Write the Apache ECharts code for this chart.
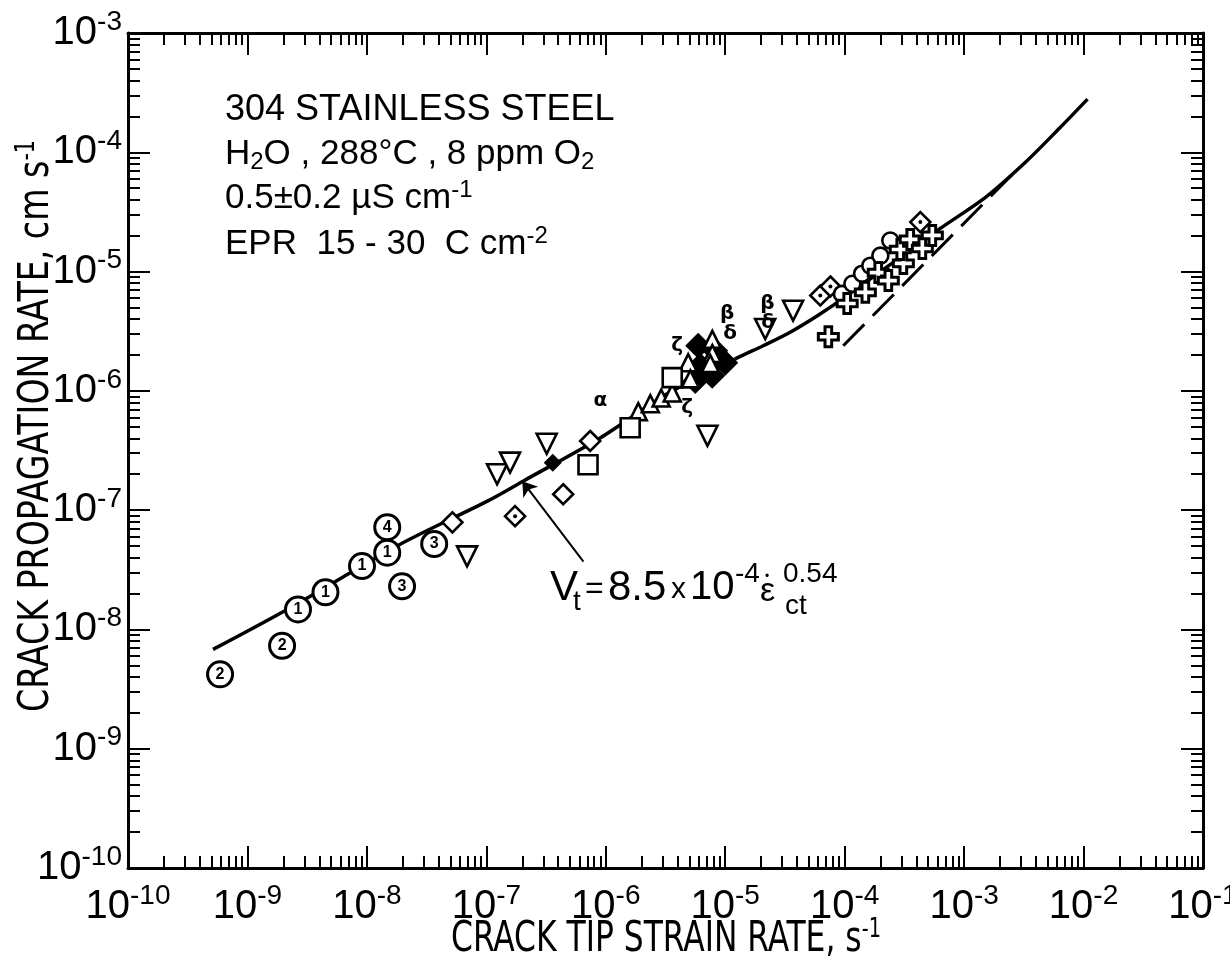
<!DOCTYPE html>
<html><head><meta charset="utf-8">
<script src="https://cdn.jsdelivr.net/npm/echarts@6/dist/echarts.min.js"></script>
<style>html,body{margin:0;padding:0;background:#fff}#c{width:1230px;height:963px}</style>
</head><body><div id="c"></div>
<script>
// ---- tick values ----
const xMajorTicks = [1e-10,1e-9,1e-8,1e-7,1e-6,1e-5,1e-4,1e-3,1e-2,1e-1];
const yMajorTicks = [1e-10,1e-9,1e-8,1e-7,1e-6,1e-5,1e-4,1e-3];
const minorMultipliers = [2,3,4,5,6,7,8,9];

// ---- data (strain rate s^-1, crack rate cm/s) ----
const fitCurve = [[5.15e-10,6.8e-9],[2.15e-9,1.47e-8],[1.9e-8,5.18e-8],[1.02e-7,1.19e-7],[2.03e-7,1.75e-7],
  [8.97e-7,4.03e-7],[3.27e-6,9.44e-7],[1.26e-5,1.89e-6],[2.1e-5,2.4e-6],[3.5e-5,3.1e-6],[6.0e-5,4.3e-6],[1.1e-4,6.5e-6],[6.32e-4,2.3e-5],
  [1.51e-3,4.19e-5],[3.26e-3,8.24e-5],[6.4e-3,1.62e-4],[1.08e-2,2.79e-4]];
const dashedLine = [[9.73e-5,2.39e-6],[2.84e-3,7.34e-5]];
const circledPts = [[5.9e-10,4.2e-9,'2'],[1.95e-9,7.3e-9,'2'],[2.65e-9,1.47e-8,'1'],[4.5e-9,2.05e-8,'1'],
  [9.1e-9,3.4e-8,'1'],[1.48e-8,4.4e-8,'1'],[1.48e-8,7.2e-8,'4'],[1.97e-8,2.3e-8,'3'],[3.66e-8,5.2e-8,'3']];
const openDiamonds = [[5.2e-8,7.9e-8],[4.4e-7,1.36e-7],[7.4e-7,3.8e-7]];
const dotDiamonds = [[1.74e-7,8.9e-8],[6.25e-5,6.3e-6],[7.6e-5,7.5e-6],[4.3e-4,2.6e-5]];
const filledDiamonds = [[3.6e-7,2.5e-7]];
const blobPts = [[5.94e-6,2.39e-6],[8.24e-6,2.17e-6],[1.0e-5,1.72e-6],[6.18e-6,1.62e-6],[5.61e-6,1.21e-6],[7.78e-6,1.34e-6]];
const downTriangles = [[6.9e-8,4.1e-8],[1.23e-7,2.0e-7],[1.58e-7,2.5e-7],[3.2e-7,3.6e-7],[7.1e-6,4.2e-7],[2.16e-5,3.3e-6],[3.7e-5,4.7e-6]];
const upTriangles = [[1.87e-6,6.7e-7],[2.36e-6,7.8e-7],[2.91e-6,8.7e-7],[3.6e-6,9.6e-7],[4.9e-6,1.72e-6],[5.1e-6,1.26e-6],
  [7.8e-6,2.7e-6],[7.8e-6,2.05e-6],[7.5e-6,1.69e-6]];
const openSquares = [[7.1e-7,2.4e-7],[1.6e-6,4.9e-7],[3.6e-6,1.29e-6]];
const openCircles = [[9.5e-5,6.5e-6],[1.16e-4,7.9e-6],[1.4e-4,9.6e-6],[1.64e-4,1.12e-5],[1.99e-4,1.36e-5],[2.41e-4,1.82e-5]];
const crossPts = [[7.3e-5,2.84e-6],[1.05e-4,5.4e-6],[1.49e-4,6.7e-6],[1.91e-4,9.8e-6],[2.32e-4,8.4e-6],[3.1e-4,1.17e-5],
  [2.92e-4,1.53e-5],[3.54e-4,1.86e-5],[4.47e-4,1.56e-5],[5.42e-4,2.01e-5]];
const letterPts = [[9.0e-7,8.2e-7,'α'],[1.04e-5,4.44e-6,'β'],[2.25e-5,5.4e-6,'β'],[3.96e-6,2.39e-6,'ζ'],[4.8e-6,7.2e-7,'ζ'],
  [1.1e-5,3.0e-6,'δ'],[2.29e-5,3.7e-6,'δ']];
const arrowCoords = [[6.5e-7,3.7e-8],[2.0e-7,1.75e-7]];

function minorsOf(majors){const o=[];for(let i=0;i<majors.length-1;i++)for(const m of minorMultipliers)o.push(+(majors[i]*m).toPrecision(3));return o;}
const xMinorTicks = minorsOf(xMajorTicks), yMinorTicks = minorsOf(yMajorTicks);

const FONT = 'Liberation Sans, Arial, sans-serif';
const NARROW = 'Liberation Sans Narrow, DejaVu Sans Condensed, sans-serif';
const labelRich = {
  b:{fontSize:40,fontFamily:FONT,color:'#000'},
  s:{fontSize:28,fontFamily:FONT,color:'#000',padding:[0,0,22,0]}
};
const expFmt = v => '{b|10}{s|' + Math.round(Math.log10(v)) + '}';

function mkAxis(dim, pos, ticks, len, withLabel, withLine){
  const isX = dim==='x';
  return {
    type:'log', logBase:10, min:1e-10, max: isX?1e-1:1e-3, position:pos,
    axisLine:{show:withLine,onZero:false,lineStyle:{color:'#000',width:3}},
    axisTick:{show:true,inside:true,length:len,customValues:ticks,lineStyle:{color:'#000',width:2}},
    axisLabel: withLabel ? {show:true,customValues:ticks,formatter:expFmt,rich:labelRich,margin:isX?14:6,color:'#000',hideOverlap:false} : {show:false},
    splitLine:{show:false}, minorTick:{show:false}, minorSplitLine:{show:false}
  };
}

const openStyle = {color:'#fff',borderColor:'#000',borderWidth:2.6,opacity:1};
const crossPath = 'path://M-1,-3L1,-3L1,-1L3,-1L3,1L1,1L1,3L-1,3L-1,1L-3,1L-3,-1L-1,-1Z';

function txt(x,y,text,size,extra){
  return Object.assign({type:'text',x:x,y:y,style:{text:text,fontSize:size,fontFamily:FONT,fill:'#000',verticalAlign:'middle'}},extra||{});
}

const option = {
  animation:false,
  backgroundColor:'#fff',
  grid:{left:128,top:33,right:27,bottom:95,containLabel:false,outerBoundsMode:'none'},
  xAxis:[mkAxis('x','bottom',xMajorTicks,22,true,true), mkAxis('x','bottom',xMinorTicks,12,false,false),
         mkAxis('x','top',xMajorTicks,22,false,true), mkAxis('x','top',xMinorTicks,12,false,false)],
  yAxis:[mkAxis('y','left',yMajorTicks,22,true,true), mkAxis('y','left',yMinorTicks,12,false,false),
         mkAxis('y','right',yMajorTicks,22,false,true), mkAxis('y','right',yMinorTicks,12,false,false)],
  series:[
    {type:'line',data:fitCurve,smooth:0.3,symbol:'none',lineStyle:{color:'#000',width:3.5},z:1},
    {type:'line',data:dashedLine,symbol:'none',lineStyle:{color:'#000',width:3,type:[30,12]},z:1},
    {type:'lines',coordinateSystem:'cartesian2d',data:[{coords:arrowCoords}],symbol:['none','arrow'],symbolSize:[1,14],
      lineStyle:{color:'#000',width:2,opacity:1},z:2},
    {type:'scatter',data:blobPts,symbol:'diamond',symbolSize:26,itemStyle:{color:'#000',opacity:1},z:3},
    {type:'scatter',data:filledDiamonds,symbol:'diamond',symbolSize:18,itemStyle:{color:'#000',opacity:1},z:3},
    {type:'scatter',data:openDiamonds,symbol:'diamond',symbolSize:20,itemStyle:openStyle,z:4},
    {type:'scatter',data:dotDiamonds,symbol:'diamond',symbolSize:20,itemStyle:openStyle,z:4},
    {type:'scatter',data:dotDiamonds,symbol:'circle',symbolSize:4,itemStyle:{color:'#000',opacity:1},z:5},
    {type:'scatter',data:downTriangles,symbol:'triangle',symbolRotate:180,symbolSize:20,itemStyle:openStyle,z:4},
    {type:'scatter',data:upTriangles,symbol:'triangle',symbolSize:17,itemStyle:openStyle,z:4},
    {type:'scatter',data:openSquares,symbol:'rect',symbolSize:19,itemStyle:openStyle,z:4},
    {type:'scatter',data:openCircles,symbol:'circle',symbolSize:16,itemStyle:openStyle,z:4},
    {type:'scatter',data:crossPts,symbol:crossPath,symbolSize:20,itemStyle:{color:'#fff',borderColor:'#000',borderWidth:3,opacity:1},z:4},
    {type:'scatter',data:circledPts,symbol:'circle',symbolSize:25,itemStyle:{color:'#fff',borderColor:'#000',borderWidth:3,opacity:1},z:4,
      label:{show:true,position:'inside',formatter:p=>p.data[2],fontSize:16,fontWeight:'bold',fontFamily:FONT,color:'#000'}},
    {type:'scatter',data:letterPts,symbol:'circle',symbolSize:1,itemStyle:{color:'rgba(0,0,0,0)',opacity:1},z:6,
      label:{show:true,position:'inside',formatter:p=>p.data[2],fontSize:20,fontWeight:'bold',fontFamily:'DejaVu Sans',color:'#000',opacity:1}}
  ],
  graphic:[
    txt(225,110,'304 STAINLESS STEEL',36),
    {type:'text',x:225,y:154,style:{text:'H{sb|2}O , 288°C , 8 ppm O{sb|2}',fill:'#000',verticalAlign:'middle',
      rich:{sb:{fontSize:24,fontFamily:FONT,padding:[16,0,0,0]}},fontSize:35,fontFamily:FONT}},
    {type:'text',x:225,y:198,style:{text:'0.5±0.2 µS cm{sp|-1}',fill:'#000',verticalAlign:'middle',
      rich:{sp:{fontSize:24,fontFamily:FONT,padding:[0,0,16,0]}},fontSize:35,fontFamily:FONT}},
    {type:'text',x:225,y:244,style:{text:'EPR  15 - 30  C cm{sp|-2}',fill:'#000',verticalAlign:'middle',
      rich:{sp:{fontSize:24,fontFamily:FONT,padding:[0,0,16,0]}},fontSize:35,fontFamily:FONT}},
    // equation label
    txt(550,588,'V',42), txt(573,602,'t',28), txt(585,589,'=',32), txt(608,588,'8.5',42), txt(671,590,'x',30),
    txt(690,588,'10',40), txt(735,574,'-4',28), txt(760,592,'ε',34), txt(765,577,'•',12),
    txt(783,574,'0.54',28), txt(785,606,'ct',28),
    {type:'text',x:666,y:940,scaleX:0.83,style:{text:'CRACK TIP STRAIN RATE, s{sp|-1}',fill:'#000',align:'center',verticalAlign:'middle',
      fontSize:42,fontFamily:NARROW,rich:{sp:{fontSize:26,fontFamily:NARROW,padding:[0,0,20,0]}}}},
    {type:'text',x:37,y:426,rotation:Math.PI/2,scaleX:0.88,style:{text:'CRACK PROPAGATION RATE, cm s{sp|-1}',fill:'#000',align:'center',verticalAlign:'middle',
      fontSize:42,fontFamily:NARROW,rich:{sp:{fontSize:26,fontFamily:NARROW,padding:[0,0,20,0]}}}}
  ]
};
const chart = echarts.init(document.getElementById('c'),null,{renderer:'canvas'});
chart.setOption(option);
</script></body></html>
